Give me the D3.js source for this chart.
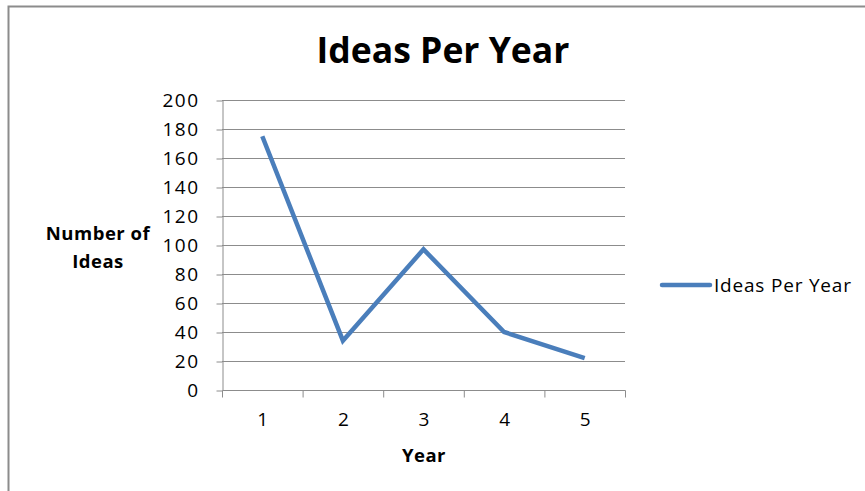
<!DOCTYPE html>
<html><head><meta charset="utf-8">
<script src="https://cdn.jsdelivr.net/npm/d3@7"></script>
<style>body{margin:0;background:#fff;} svg{display:block;}</style>
</head><body>
<svg id="c" width="865" height="491"></svg>
<script>
const years = ["1","2","3","4","5"];
const ideas = [175, 34, 97, 40, 22];
const yTicks = [0,20,40,60,80,100,120,140,160,180,200];
const seriesName = "Ideas Per Year";

const svg = d3.select("#c");
const font = "'Open Sans', sans-serif";
// outer frame
svg.append("path").attr("d","M8.5,491 V6.5 H865").attr("fill","none").attr("stroke","#8c8c8c").attr("stroke-width",2);

const L=222, R=625, T=100, B=390;
const x = d3.scaleBand().domain(years).range([L,R]);
const y = d3.scaleLinear().domain([0,200]).range([B,T]);

// gridlines
svg.append("g").selectAll("line").data(yTicks.filter(d=>d>0)).join("line")
  .attr("x1",L).attr("x2",R).attr("y1",d=>y(d)+0.5).attr("y2",d=>y(d)+0.5)
  .attr("stroke","#8c8c8c").attr("stroke-width",1);

// y axis
const ya = svg.append("g").attr("transform",`translate(${L+0.5},0.5)`)
  .call(d3.axisLeft(y).tickValues(yTicks).tickSize(6).tickPadding(17).tickSizeOuter(0));
ya.select(".domain").attr("stroke","#8c8c8c");
ya.selectAll(".tick line").attr("stroke","#8c8c8c");
ya.selectAll("text").attr("font-family",font).attr("font-size",19).attr("letter-spacing",1.5).attr("fill","#000");

// x axis
const xa = svg.append("g").attr("transform",`translate(0.5,${B+0.5})`)
  .call(d3.axisBottom(x).tickSize(0).tickPadding(22));
xa.select(".domain").attr("stroke","#8c8c8c").attr("d",`M${L},0H${R}`);
xa.selectAll("text").attr("font-family",font).attr("font-size",19).attr("fill","#000");
const bounds = years.map(d=>x(d)).concat([R]);
xa.selectAll(".bt").data(bounds).join("line").attr("class","bt")
  .attr("x1",d=>d).attr("x2",d=>d).attr("y1",0).attr("y2",7).attr("stroke","#8c8c8c");

// line
const line = d3.line().x((d,i)=>x(years[i])+x.bandwidth()/2).y(d=>y(d));
svg.append("path").datum(ideas).attr("d",line).attr("fill","none")
  .attr("stroke","#4a7ebb").attr("stroke-width",4.5).attr("stroke-linejoin","miter");

// title
svg.append("text").attr("x",443).attr("y",63).attr("text-anchor","middle")
  .attr("font-family",font).attr("font-weight","bold").attr("font-size",35.5).text("Ideas Per Year");

// axis titles
const bt = (t,xx,yy)=>svg.append("text").attr("x",xx).attr("y",yy).attr("text-anchor","middle")
  .attr("font-family",font).attr("font-weight","bold").attr("font-size",18.5).attr("letter-spacing",0.5).text(t);
bt("Number of",98,240);
bt("Ideas",98,268);
bt("Year",424,462);

// legend
svg.append("line").attr("x1",662).attr("x2",710).attr("y1",285).attr("y2",285)
  .attr("stroke","#4a7ebb").attr("stroke-width",4.5).attr("stroke-linecap","round");
svg.append("text").attr("x",714).attr("y",292).attr("font-family",font).attr("font-size",19)
  .attr("letter-spacing",0.8).text(seriesName);
</script>
</body></html>
